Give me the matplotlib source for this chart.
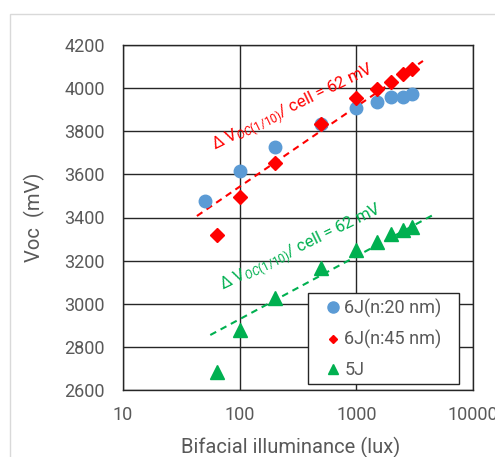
import matplotlib.pyplot as plt
from matplotlib.patches import Rectangle

# ---- data ----
lux = [50, 100, 200, 500, 1000, 1500, 2000, 2500, 3000]
voc_6j_20 = [3478, 3615, 3727, 3835, 3908, 3936, 3958, 3958, 3972]

lux_b = [64, 100, 200, 500, 1000, 1500, 2000, 2500, 3000]
voc_6j_45 = [3319, 3495, 3654, 3834, 3953, 3996, 4030, 4064, 4087]
voc_5j = [2685, 2878, 3027, 3166, 3249, 3288, 3322, 3340, 3357]

# dashed guide lines (start / end)
red_fit_x = [43, 3725]
red_fit_y = [3407, 4126]
green_fit_x = [56, 4700]
green_fit_y = [2855, 3416]

xticks = [10, 100, 1000, 10000]
yticks = [2600, 2800, 3000, 3200, 3400, 3600, 3800, 4000, 4200]

gray = '#595959'
plt.rcParams['font.family'] = ['Roboto', 'DejaVu Sans']
plt.rcParams['mathtext.fontset'] = 'custom'
plt.rcParams['mathtext.rm'] = 'Roboto'
plt.rcParams['mathtext.it'] = 'Roboto:italic'

fig = plt.figure(figsize=(4.95, 4.57), dpi=100)
# light outer frame of the chart area
fig.patches.append(Rectangle((10 / 495, -0.1), 1.2, 1 - 14 / 457 + 0.1,
                             transform=fig.transFigure, fill=False,
                             edgecolor='#d9d9d9', linewidth=1))
ax = fig.add_axes([123 / 495, 1 - 390 / 457, 350 / 495, 345 / 457])

ax.plot(red_fit_x, red_fit_y, color='#ff0000', ls=(0, (3.2, 2.4)), lw=1.5, zorder=2)
ax.plot(green_fit_x, green_fit_y, color='#00b050', ls=(0, (3.2, 2.4)), lw=1.5, zorder=2)

ax.plot(lux, voc_6j_20, 'o', color='#5b9bd5', ms=9, ls='none', label='6J(n:20 nm)', zorder=3)
ax.plot(lux_b, voc_6j_45, 'D', color='#ff0000', ms=7, ls='none', label='6J(n:45 nm)', zorder=4)
ax.plot(lux_b, voc_5j, '^', color='#00b050', ms=9.5, ls='none', label='5J', zorder=3)

ax.set_xscale('log')
ax.set_xlim(10, 10000)
ax.set_ylim(2600, 4200)
ax.set_xticks(xticks)
ax.set_xticklabels([str(t) for t in xticks])
ax.set_yticks(yticks)
ax.minorticks_off()
ax.grid(True, color='#262626', lw=1)
ax.set_axisbelow(True)
ax.tick_params(length=0, labelsize=13, colors=gray)
ax.tick_params(axis='y', pad=13)
ax.tick_params(axis='x', pad=11.5)
for s in ax.spines.values():
    s.set_color('#262626')
    s.set_linewidth(1)

ax.set_ylabel('Voc  (mV)', fontsize=14.5, color=gray, labelpad=14)
ax.set_xlabel('Bifacial illuminance (lux)', fontsize=14.5, color=gray, labelpad=9)
ax.xaxis.set_label_coords(0.48, -0.135)

txt = r'$\Delta$ V$_{\mathit{OC(1/10)}}$/ cell = 62 mV'
ax.text(61, 3713, txt, color='#ff0000', fontsize=12, rotation=26,
        rotation_mode='anchor', ha='left', va='baseline')
ax.text(72, 3064, txt, color='#00b050', fontsize=12, rotation=26,
        rotation_mode='anchor', ha='left', va='baseline')

# legend box drawn by hand, entries drawn by legend without its own frame
ax.add_patch(Rectangle((308 / 495, 1 - 384 / 457), 151 / 495, 91 / 457,
                       transform=fig.transFigure, facecolor='white',
                       edgecolor='#262626', linewidth=1, zorder=5))
leg = ax.legend(loc='center', bbox_to_anchor=(384 / 495, 1 - 339 / 457),
                bbox_transform=fig.transFigure, frameon=False, fontsize=13,
                handlelength=0.7, handletextpad=0.3,
                labelspacing=0.67, borderpad=0.3)
leg.set_zorder(6)
for t in leg.get_texts():
    t.set_color(gray)
for h, m in zip(leg.legend_handles, [8, 4.2, 7.2]):
    h.set_markersize(m)

plt.savefig('out.png', dpi=100)
